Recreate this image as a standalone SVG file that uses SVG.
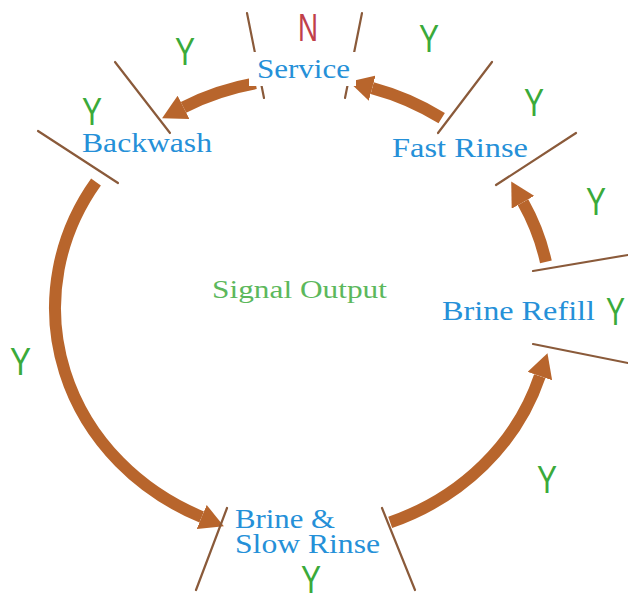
<svg xmlns="http://www.w3.org/2000/svg" width="628" height="599" viewBox="0 0 628 599">
<style>
.node{font-family:"Liberation Serif","Times New Roman",serif;font-size:28px;fill:#2590d8}
.sig{font-family:"Liberation Serif","Times New Roman",serif;font-size:26px;fill:#5cb85c}
.yn{font-family:"Liberation Sans",Arial,sans-serif;font-size:38px;fill:#3aaa3a}
.no{fill:#c0404a}
.div{stroke:#8a5a3a;stroke-width:2.2;stroke-linecap:round}
.arc{fill:none;stroke:#b8652c;stroke-width:12}
.bg{fill:#ffffff}
</style>
<defs>
<marker id="ah" markerUnits="userSpaceOnUse" markerWidth="24" markerHeight="26" viewBox="0 0 24 26" refX="0" refY="13" orient="auto">
<path d="M0,0 L24,13 L0,26 z" fill="#b8652c"/>
</marker>
</defs>
<rect width="628" height="599" fill="#ffffff"/>
<g id="connectors">
<path class="arc" d="M 441.7 118.2 A 248 229 0 0 0 372.2 88.1" stroke-width="13" marker-end="url(#ah)"/>
<path class="arc" d="M 255.7 83.2 A 248 229 0 0 0 183.5 107.3" stroke-width="13" marker-end="url(#ah)"/>
<path class="arc" d="M 96.0 181.9 A 248 229 0 0 0 201.7 517.0" marker-end="url(#ah)"/>
<path class="arc" d="M 390.2 522.4 A 248 229 0 0 0 539.8 376.1" stroke-width="11" marker-end="url(#ah)"/>
<path class="arc" d="M 545.9 261.9 A 248 229 0 0 0 523.0 202.3" stroke-width="11" marker-end="url(#ah)"/>
</g>
<g id="node-service">
<line class="div" x1="247" y1="13" x2="264" y2="98"/>
<line class="div" x1="362" y1="13" x2="345" y2="98"/>
<rect class="bg" x="249" y="52" width="107" height="34"/>
<text class="node" x="257" y="78" textLength="93" lengthAdjust="spacingAndGlyphs">Service</text>
</g>
<g id="node-backwash">
<line class="div" x1="115" y1="62" x2="170" y2="133"/>
<line class="div" x1="38" y1="131" x2="118" y2="183"/>
<text class="node" x="82" y="152" textLength="130" lengthAdjust="spacingAndGlyphs">Backwash</text>
</g>
<g id="node-fast-rinse">
<line class="div" x1="492" y1="62" x2="438" y2="133"/>
<line class="div" x1="576" y1="133" x2="496" y2="185"/>
<text class="node" x="392" y="157" textLength="136" lengthAdjust="spacingAndGlyphs">Fast Rinse</text>
</g>
<g id="node-brine-refill">
<line class="div" x1="533" y1="271" x2="628" y2="255"/>
<line class="div" x1="533" y1="344" x2="628" y2="363"/>
<text class="node" x="442" y="320" textLength="153" lengthAdjust="spacingAndGlyphs">Brine Refill</text>
</g>
<g id="node-brine-slow-rinse">
<line class="div" x1="227" y1="508" x2="196" y2="590"/>
<line class="div" x1="382" y1="508" x2="415" y2="590"/>
<text class="node" x="235" y="528" font-size="26" textLength="100" lengthAdjust="spacingAndGlyphs">Brine &amp;</text>
<text class="node" x="235" y="553" font-size="26" textLength="145" lengthAdjust="spacingAndGlyphs">Slow Rinse</text>
</g>
<g id="node-signal-output">
<text class="sig" x="212" y="298" textLength="175" lengthAdjust="spacingAndGlyphs">Signal Output</text>
</g>
<g id="labels">
<text class="yn no" x="298" y="41" textLength="20" lengthAdjust="spacingAndGlyphs">N</text>
<text class="yn" x="175" y="65" textLength="20" lengthAdjust="spacingAndGlyphs">Y</text>
<text class="yn" x="82" y="125" textLength="20" lengthAdjust="spacingAndGlyphs">Y</text>
<text class="yn" x="419" y="52" textLength="20" lengthAdjust="spacingAndGlyphs">Y</text>
<text class="yn" x="524" y="116" textLength="20" lengthAdjust="spacingAndGlyphs">Y</text>
<text class="yn" x="586" y="215" textLength="20" lengthAdjust="spacingAndGlyphs">Y</text>
<text class="yn" x="606" y="325" textLength="19" lengthAdjust="spacingAndGlyphs">Y</text>
<text class="yn" x="537" y="493" textLength="20" lengthAdjust="spacingAndGlyphs">Y</text>
<text class="yn" x="301" y="593" textLength="20" lengthAdjust="spacingAndGlyphs">Y</text>
<text class="yn" x="10" y="375" textLength="21" lengthAdjust="spacingAndGlyphs">Y</text>
</g>
</svg>
